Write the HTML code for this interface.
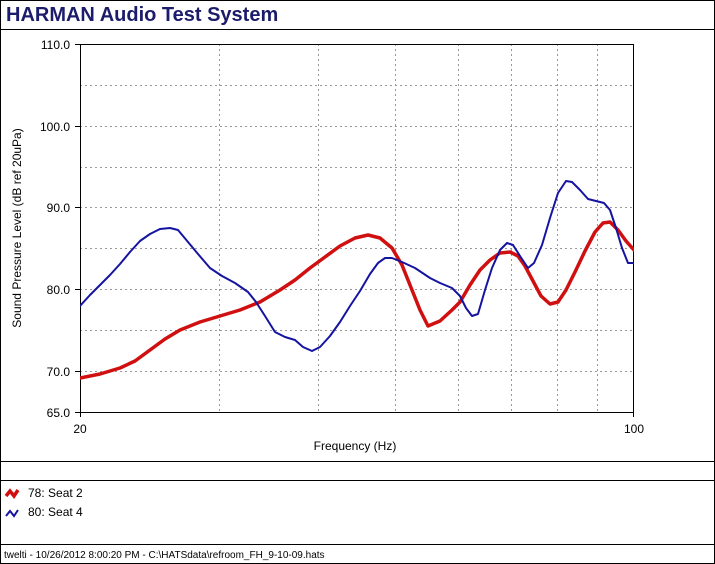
<!DOCTYPE html>
<html><head><meta charset="utf-8"><style>
body{margin:0;background:#fff}
svg{display:block;font-family:"Liberation Sans",Arial,sans-serif}
</style></head><body>
<svg width="715" height="564" viewBox="0 0 715 564">
<rect x="0.5" y="0.5" width="714" height="563" fill="#fff" stroke="#000"/>
<text x="6" y="21" font-size="20" font-weight="bold" fill="#1c1c6c">HARMAN Audio Test System</text>
<line x1="0" y1="29.5" x2="715" y2="29.5" stroke="#000"/>
<line x1="0" y1="461.5" x2="715" y2="461.5" stroke="#000"/>
<line x1="0" y1="480.5" x2="715" y2="480.5" stroke="#000"/>
<line x1="0" y1="544.5" x2="715" y2="544.5" stroke="#000"/>
<g stroke="#999" stroke-dasharray="2,3" stroke-width="1">
<line x1="80" x2="634" y1="85.5" y2="85.5"/><line x1="80" x2="634" y1="126.5" y2="126.5"/>
<line x1="80" x2="634" y1="167.5" y2="167.5"/><line x1="80" x2="634" y1="207.5" y2="207.5"/>
<line x1="80" x2="634" y1="248.5" y2="248.5"/><line x1="80" x2="634" y1="289.5" y2="289.5"/>
<line x1="80" x2="634" y1="330.5" y2="330.5"/><line x1="80" x2="634" y1="371.5" y2="371.5"/>
<line x1="219.5" x2="219.5" y1="44" y2="412"/><line x1="318.5" x2="318.5" y1="44" y2="412"/>
<line x1="395.5" x2="395.5" y1="44" y2="412"/><line x1="458.5" x2="458.5" y1="44" y2="412"/>
<line x1="511.5" x2="511.5" y1="44" y2="412"/><line x1="557.5" x2="557.5" y1="44" y2="412"/>
<line x1="597.5" x2="597.5" y1="44" y2="412"/>
</g>
<rect x="80.5" y="44.5" width="553" height="368" fill="none" stroke="#000"/>
<g stroke="#000"><line x1="75" x2="80" y1="44.5" y2="44.5"/><line x1="75" x2="80" y1="126.5" y2="126.5"/><line x1="75" x2="80" y1="207.5" y2="207.5"/><line x1="75" x2="80" y1="289.5" y2="289.5"/><line x1="75" x2="80" y1="371.5" y2="371.5"/><line x1="75" x2="80" y1="412.5" y2="412.5"/><line x1="80.5" x2="80.5" y1="412" y2="417"/><line x1="633.5" x2="633.5" y1="412" y2="417"/></g>
<g font-size="12" text-anchor="end" fill="#000">
<text x="70" y="49">110.0</text><text x="70" y="131">100.0</text><text x="70" y="212">90.0</text>
<text x="70" y="294">80.0</text><text x="70" y="376">70.0</text><text x="70" y="417">65.0</text>
</g>
<text x="80" y="433" font-size="12" text-anchor="middle">20</text>
<text x="634" y="433" font-size="12" text-anchor="middle">100</text>
<text x="355" y="450" font-size="12" text-anchor="middle">Frequency (Hz)</text>
<text transform="translate(21,228) rotate(-90)" font-size="12" text-anchor="middle">Sound Pressure Level (dB ref 20uPa)</text>
<clipPath id="c"><rect x="80" y="44" width="554" height="368"/></clipPath>
<g clip-path="url(#c)" fill="none" stroke-linejoin="round" stroke-linecap="round">
<path stroke="#d01010" stroke-width="3.5" d="M80,378 L100,374 L120,368 L135,361 L150,350 L165,339 L180,330 L200,322 L220,316 L240,310 L260,302 L280,290 L295,280 L310,268 L325,257 L340,246 L355,238 L368,235 L380,238 L392,248 L402,265 L412,290 L420,310 L428,326 L440,321 L452,310 L460,302 L470,285 L480,270 L490,260 L500,253 L510,252 L518,256 L525,266 L533,281 L541,296 L550,304 L558,302 L566,290 L575,272 L585,251 L595,232 L603,223 L610,222 L618,230 L626,241 L634,250"/>
<path stroke="#1414a0" stroke-width="2" d="M80,306 L90,295 L100,285 L110,275 L120,264 L130,252 L140,241 L150,234 L160,229 L170,228 L178,230 L188,242 L198,254 L210,268 L222,276 L235,283 L248,292 L256,302 L265,316 L275,332 L285,337 L295,340 L303,347 L312,351 L320,347 L330,336 L340,322 L350,306 L360,291 L370,274 L378,263 L385,258 L392,258 L402,262 L415,268 L430,278 L440,283 L452,288 L460,296 L466,308 L472,316 L478,314 L485,290 L492,268 L500,250 L507,243 L513,245 L520,256 L528,268 L534,263 L542,245 L550,218 L558,193 L566,181 L572,182 L580,190 L588,199 L596,201 L604,203 L610,210 L616,228 L622,248 L628,263 L634,263"/>
</g>
<path d="M6,496 L10,491 L14,496 L18,490" fill="none" stroke="#d01010" stroke-width="3.5"/>
<path d="M6,516 L10,511 L14,516 L18,510" fill="none" stroke="#1414a0" stroke-width="2"/>
<text x="28" y="497" font-size="12">78: Seat 2</text>
<text x="28" y="516" font-size="12">80: Seat 4</text>
<text x="4" y="558" font-size="10">twelti - 10/26/2012 8:00:20 PM - C:\HATSdata\refroom_FH_9-10-09.hats</text>
</svg>
</body></html>
